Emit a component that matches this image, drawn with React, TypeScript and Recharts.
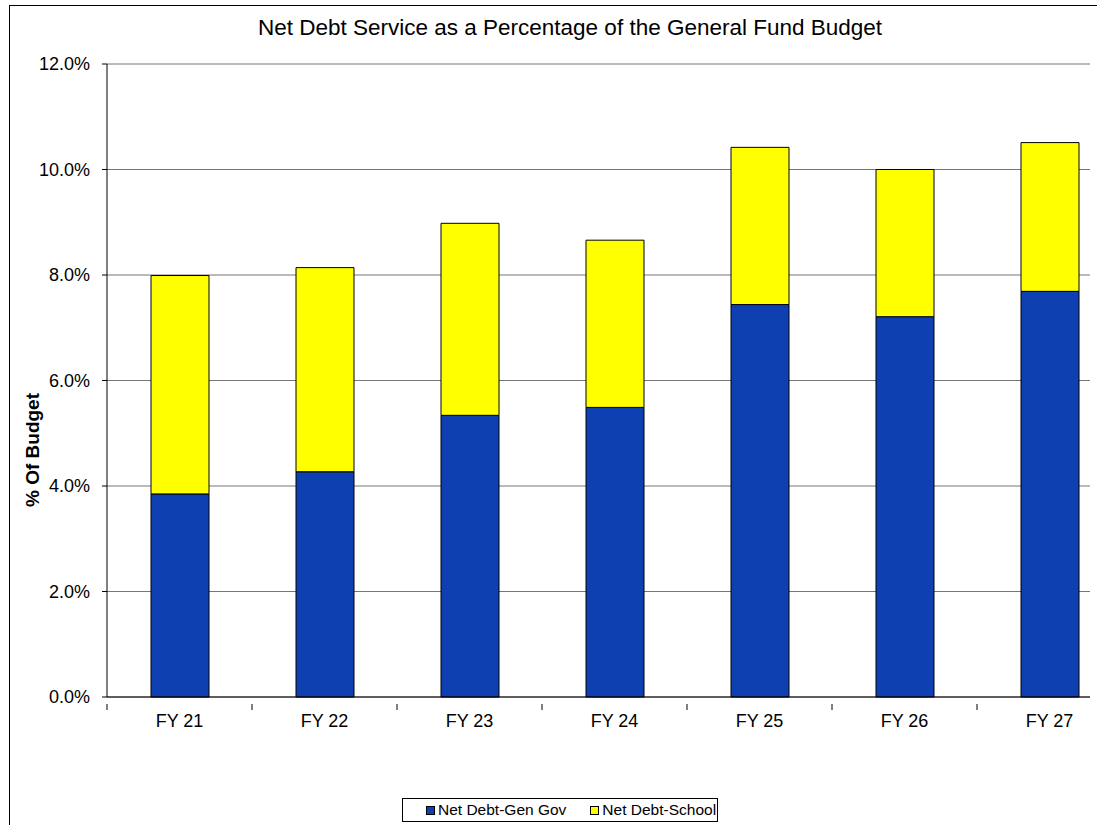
import React from 'react';
import { BarChart, Bar, XAxis, YAxis, CartesianGrid } from 'recharts';

const years = ['FY 21', 'FY 22', 'FY 23', 'FY 24', 'FY 25', 'FY 26', 'FY 27'];
const genGov = [3.85, 4.27, 5.34, 5.49, 7.44, 7.21, 7.69];
const school = [4.14, 3.87, 3.64, 3.17, 2.98, 2.79, 2.82];
const yTicks = [0, 2, 4, 6, 8, 10, 12];

const seriesNames = ['Net Debt-Gen Gov', 'Net Debt-School'];
const seriesColors = ['#0F40B2', '#FFFF00'];

const W = 1097;
const H = 825;
const margin = { top: 64, right: 7, bottom: 88, left: 0 };
const yAxisWidth = 107;
// excel laid the categories out a bit wider than the visible plot
const overhang = 32;
const font = 'Arial, "Liberation Sans", sans-serif';

const data = years.map((name, i) => ({ name, genGov: genGov[i], school: school[i] }));

const plotWidth = W - margin.left - margin.right - yAxisWidth;
const step = (plotWidth + overhang) / years.length;

const XTick = (props: any) => {
  const { x, y, payload } = props;
  return (
    <g>
      <line x1={x - step / 2} x2={x - step / 2} y1={y - 1} y2={y + 5} stroke="#000" />
      <text x={x} y={y + 22} textAnchor="middle" fill="#000" fontSize={18} fontFamily={font}>
        {payload.value}
      </text>
    </g>
  );
};

const App = () => {
  return (
    <div style={{ position: 'absolute', left: 0, top: 0, width: W, height: H, overflow: 'hidden', background: '#fff' }}>
      <div style={{ position: 'absolute', left: 9, top: 5, width: 1200, height: 900, border: '1px solid #000' }} />
      <div style={{ position: 'absolute', left: 0, top: 0 }}>
        <BarChart width={W} height={H} data={data} margin={margin} barSize={58}>
          <CartesianGrid vertical={false} stroke="#777" />
          <XAxis
            dataKey="name"
            height={40}
            tickLine={false}
            axisLine={{ stroke: '#000' }}
            tick={<XTick />}
            interval={0}
            padding={{ left: 0, right: -overhang }}
          />
          <YAxis
            width={yAxisWidth}
            domain={[0, 12]}
            ticks={yTicks}
            interval={0}
            tickFormatter={(v: number) => v.toFixed(1) + '%'}
            axisLine={{ stroke: '#000' }}
            tickLine={{ stroke: '#000' }}
            tickSize={5}
            tickMargin={12}
            tick={{ fill: '#000', fontSize: 18, fontFamily: font }}
          />
          <Bar dataKey="genGov" name={seriesNames[0]} stackId="a" fill={seriesColors[0]} stroke="#000" strokeWidth={1} isAnimationActive={false} />
          <Bar dataKey="school" name={seriesNames[1]} stackId="a" fill={seriesColors[1]} stroke="#000" strokeWidth={1} isAnimationActive={false} />
        </BarChart>
      </div>
      <div style={{ position: 'absolute', left: 0, width: 1140, top: 15, textAlign: 'center', fontFamily: font, fontSize: 22.5, color: '#000' }}>
        Net Debt Service as a Percentage of the General Fund Budget
      </div>
      <div
        style={{
          position: 'absolute', left: 33, top: 450, transform: 'translate(-50%, -50%) rotate(-90deg)',
          whiteSpace: 'nowrap', fontFamily: font, fontSize: 19, fontWeight: 'bold', color: '#000',
        }}
      >
        % Of Budget
      </div>
      <div
        style={{
          position: 'absolute', left: 402, top: 798, width: 316, height: 24, boxSizing: 'border-box',
          border: '1px solid #000', display: 'flex', alignItems: 'center', paddingLeft: 23,
          fontFamily: font, fontSize: 15.5, color: '#000', gap: 24, whiteSpace: 'nowrap',
        }}
      >
        {seriesNames.map((n, i) => (
          <div key={n} style={{ display: 'flex', alignItems: 'center' }}>
            <span style={{ display: 'inline-block', width: 9, height: 9, boxSizing: 'border-box', background: seriesColors[i], border: '1px solid #000', marginRight: 3 }} />
            <span>{n}</span>
          </div>
        ))}
      </div>
    </div>
  );
};

export default App;
